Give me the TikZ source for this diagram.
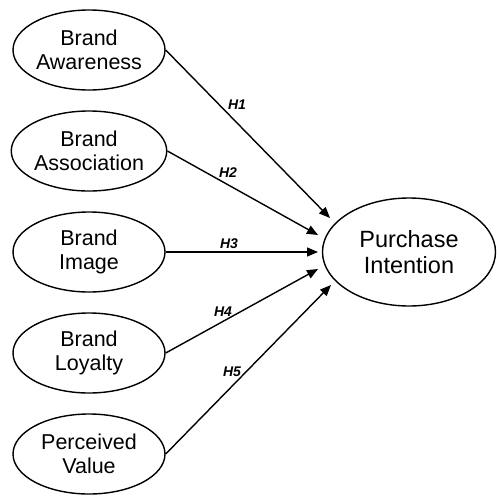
\documentclass[tikz,border=0pt]{standalone}
\usepackage{fontspec}
\setmainfont{Liberation Sans}
\usetikzlibrary{arrows.meta,shapes.geometric}
\begin{document}
\begin{tikzpicture}[x=1pt,y=-1pt,
  construct/.style={ellipse,draw,line width=1.4pt,inner sep=0pt,
    minimum width=152pt,minimum height=80pt,align=center,
    font=\fontsize{21.5pt}{23.5pt}\selectfont},
  outcome/.style={ellipse,draw,line width=1.4pt,inner sep=0pt,
    minimum width=173pt,minimum height=108pt,align=center,
    font=\fontsize{23.5pt}{25.5pt}\selectfont},
  hyp/.style={-{Triangle[length=11pt,width=9pt]},line width=1.4pt},
  hlab/.style={font=\fontsize{14pt}{15pt}\selectfont\bfseries\itshape,inner sep=0pt}]
\useasboundingbox (0,0) rectangle (496,496);
\node[construct] (a1) at (89,50) {Brand\\Awareness};
\node[construct] (a2) at (89,151) {Brand\\Association};
\node[construct] (a3) at (89,252) {Brand\\Image};
\node[construct] (a4) at (89,353) {Brand\\Loyalty};
\node[construct] (a5) at (89,454) {Perceived\\Value};
\node[outcome] (pi) at (409,252) {Purchase\\Intention};
\coordinate (t1) at (330,218);
\coordinate (t2) at (318,235);
\coordinate (t3) at (318,252);
\coordinate (t4) at (318,269);
\coordinate (t5) at (331,285);
\draw[hyp] (a1.east) -- (t1);
\draw[hyp] (a2.east) -- (t2);
\draw[hyp] (a3.east) -- (t3);
\draw[hyp] (a4.east) -- (t4);
\draw[hyp] (a5.east) -- (t5);
\node[hlab] (h1) at (237,105) {H1};
\node[hlab] (h2) at (228,173) {H2};
\node[hlab] (h3) at (229,244) {H3};
\node[hlab] (h4) at (223,312) {H4};
\node[hlab] (h5) at (232,372) {H5};
\end{tikzpicture}
\end{document}
